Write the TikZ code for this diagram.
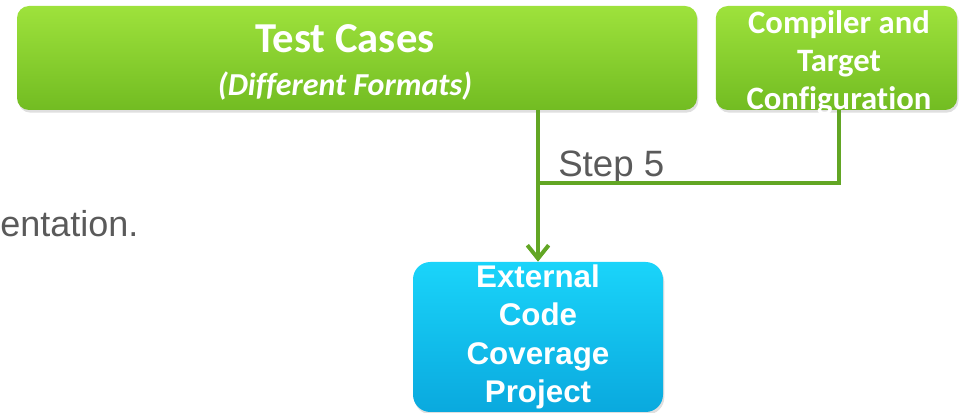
\documentclass[tikz,border=0pt]{standalone}
\usepackage{fontspec}
\setmainfont[Ligatures=NoCommon]{Carlito}
\newfontfamily\arialfont{Liberation Sans}
\usepackage[dvipsnames]{xcolor}
\usetikzlibrary{arrows, arrows.meta, shadows}

\definecolor{boxgreentop}{HTML}{9EE23C}
\definecolor{boxgreenbot}{HTML}{72BC22}
\definecolor{boxcyantop}{HTML}{1AD4FA}
\definecolor{boxcyanbot}{HTML}{0AA9DE}
\definecolor{linegreen}{HTML}{62A624}
\definecolor{textgray}{HTML}{5A5A5A}

\begin{document}
\begin{tikzpicture}[x=0.75pt, y=-0.75pt,
  greenbox/.style={rounded corners=9pt, top color=boxgreentop, bottom color=boxgreenbot,
    drop shadow={opacity=0.25, shadow xshift=1pt, shadow yshift=-2pt}, inner sep=0pt},
  greentext/.style={text=white, align=center, inner sep=0pt},
  cyanbox/.style={rounded corners=13pt, top color=boxcyantop, bottom color=boxcyanbot,
    drop shadow={opacity=0.25, shadow xshift=1pt, shadow yshift=-2pt},
    text=white, font=\arialfont\bfseries, align=center, inner sep=0pt},
  flow/.style={line width=3pt, linegreen}]
\useasboundingbox (0,0) rectangle (961,413);
%---------------------------------------------------
\node[greenbox, minimum width=510pt, minimum height=78pt] (tc) at (357,58) {};
\node[greentext, font=\bfseries\fontsize{24}{32.25}\selectfont] (tctext) at (345,62)
  {{\fontsize{32}{32.25}\selectfont Test Cases}\\
   {\itshape (Different Formats)}};
%---------------------------------------------------
\node[greenbox, minimum width=181pt, minimum height=78pt] (cfg) at (836.5,58) {};
\node[greentext, font=\bfseries\fontsize{24.5}{28.5}\selectfont] (cfgtext) at (839,63)
  {Compiler and\\Target\\Configuration};
%---------------------------------------------------
\node[cyanbox, minimum width=187.5pt, minimum height=112.5pt,
  font=\arialfont\bfseries\fontsize{23.5}{28.75}\selectfont] (ext) at (538,337)
  {External\\Code\\Coverage\\Project};
%---------------------------------------------------
\node[anchor=base west, text=textgray, font=\arialfont\fontsize{27.5}{30}\selectfont,
  inner sep=0pt] (s5) at (558,177) {Step 5};
\node[anchor=base west, text=textgray, font=\arialfont\fontsize{27}{30}\selectfont,
  inner sep=0pt] (note) at (0,237) {entation.};
%---------------------------------------------------
\coordinate (join) at (538,183);
\draw[flow, -{Straight Barb[length=10pt, width=16pt, line width=3pt]}]
  (ext.north |- tc.south) -- (ext.north);
\draw[flow] (cfg.south -| cfgtext.south) |- (join);
\end{tikzpicture}
\end{document}
